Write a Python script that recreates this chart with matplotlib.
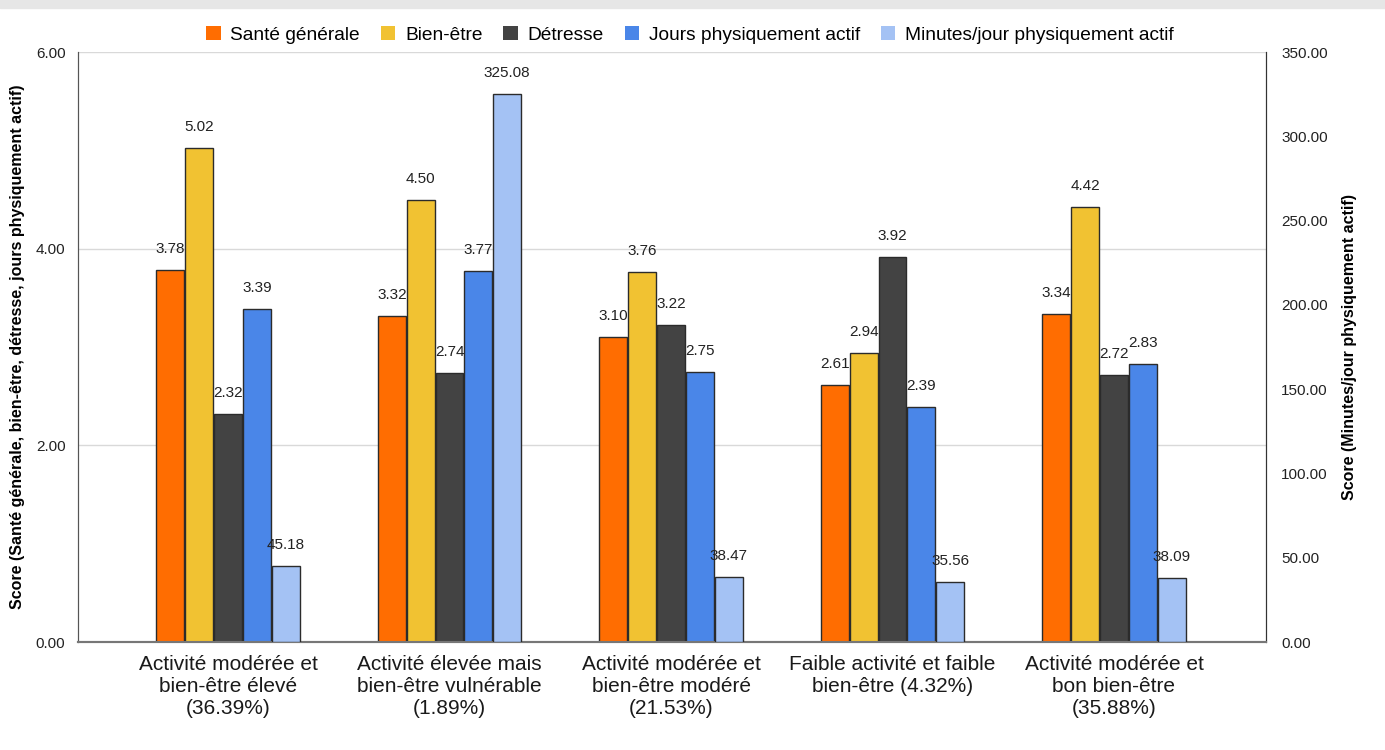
import matplotlib.pyplot as plt
import numpy as np

plt.rcParams['font.family'] = ['Liberation Sans', 'DejaVu Sans']

categories = [
    "Activité modérée et\nbien-être élevé\n(36.39%)",
    "Activité élevée mais\nbien-être vulnérable\n(1.89%)",
    "Activité modérée et\nbien-être modéré\n(21.53%)",
    "Faible activité et faible\nbien-être (4.32%)",
    "Activité modérée et\nbon bien-être\n(35.88%)",
]
sante = [3.78, 3.32, 3.10, 2.61, 3.34]
bien_etre = [5.02, 4.50, 3.76, 2.94, 4.42]
detresse = [2.32, 2.74, 3.22, 3.92, 2.72]
jours_actif = [3.39, 3.77, 2.75, 2.39, 2.83]
minutes_actif = [45.18, 325.08, 38.47, 35.56, 38.09]

series_left = [
    ("Santé générale", sante, "#ff6d01"),
    ("Bien-être", bien_etre, "#f1c232"),
    ("Détresse", detresse, "#434343"),
    ("Jours physiquement actif", jours_actif, "#4a86e8"),
]
minutes_label = "Minutes/jour physiquement actif"
minutes_color = "#a4c2f4"

fig = plt.figure(figsize=(13.85, 7.5), dpi=100)
fig.patch.set_facecolor("white")
# grey strip along the top edge
fig.patches.append(plt.Rectangle((0, 1 - 8 / 750), 1, 8 / 750, transform=fig.transFigure,
                                 color="#e6e6e6", zorder=0))

ax = fig.add_axes([78 / 1385, 108 / 750, (1266 - 78) / 1385, (642 - 52) / 750])
ax2 = ax.twinx()

x = np.arange(len(categories))
w = 0.13
edge = "#2b2b2b"
lbl_size = 11
handles = []
for i, (name, vals, col) in enumerate(series_left):
    b = ax.bar(x + (i - 2) * w, vals, w * 0.97, color=col, edgecolor=edge, linewidth=1, label=name, zorder=3)
    handles.append(b)
    for xi, v in zip(x + (i - 2) * w, vals):
        ax.annotate(f"{v:.2f}", (xi, v), xytext=(0, 10), textcoords="offset points",
                    ha="center", va="bottom", fontsize=lbl_size, color="#222222", zorder=5)

b = ax2.bar(x + 2 * w, minutes_actif, w * 0.97, color=minutes_color, edgecolor=edge, linewidth=1,
            label=minutes_label, zorder=3)
handles.append(b)
for xi, v in zip(x + 2 * w, minutes_actif):
    ax2.annotate(f"{v:.2f}", (xi, v), xytext=(0, 10), textcoords="offset points",
                 ha="center", va="bottom", fontsize=lbl_size, color="#222222")

ax.set_xlim(-150 / 221.5, 4 + 152 / 221.5)
ax.set_ylim(0, 6)
ax2.set_ylim(0, 350)
ax.set_yticks([0, 2, 4, 6])
ax.set_yticklabels([f"{t:.2f}" for t in [0, 2, 4, 6]])
ax2.set_yticks(np.arange(0, 351, 50))
ax2.set_yticklabels([f"{t:.2f}" for t in np.arange(0, 351, 50)])

ax.grid(axis="y", color="#d9d9d9", linewidth=1, zorder=0)
ax.set_axisbelow(True)
for a in (ax, ax2):
    a.tick_params(length=0, labelsize=11, colors="#222222")
    a.spines["top"].set_visible(False)
    a.spines["left"].set_color("#555555")
    a.spines["right"].set_color("#333333")
    a.spines["bottom"].set_color("#777777")
    a.spines["bottom"].set_linewidth(1.5)
ax.tick_params(axis="x", pad=9)
ax.tick_params(axis="y", pad=9)
ax2.tick_params(axis="y", pad=11)

ax.set_xticks(x)
ax.set_xticklabels(categories, fontsize=15, linespacing=1.2, color="#1a1a1a")

ax.set_ylabel("Score (Santé générale, bien-être, détresse, jours physiquement actif)",
              fontsize=11.5, fontweight="bold", labelpad=8)
ax2.set_ylabel("Score (Minutes/jour physiquement actif)", fontsize=11.5, fontweight="bold",
               labelpad=10)

fig.legend(handles, [h.get_label() for h in handles], loc="center", ncol=5,
           bbox_to_anchor=(690 / 1385, 1 - 35 / 750), frameon=False, fontsize=13.8,
           handlelength=0.75, handleheight=0.75, handletextpad=0.5, columnspacing=1.1)
for h in fig.legends[0].legend_handles:
    h.set_edgecolor("none")

fig.savefig("out.png", dpi=100, facecolor=fig.get_facecolor())
